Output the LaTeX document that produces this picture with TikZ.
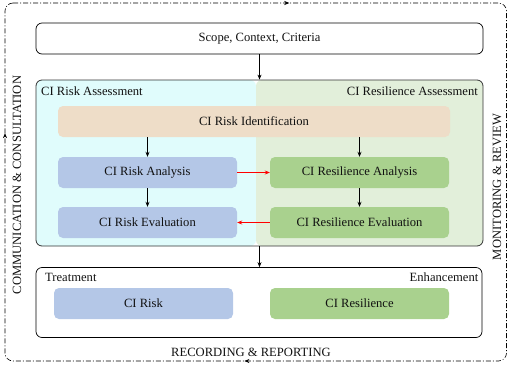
\documentclass[tikz,border=0pt]{standalone}
\usepackage{fontspec}
\setmainfont{Liberation Serif}
\usetikzlibrary{arrows.meta,decorations.markings,calc}
\definecolor{cyanbg}{HTML}{E0FCFC}
\definecolor{greenbg}{HTML}{E2EFDA}
\definecolor{tanfill}{HTML}{EEDDC8}
\definecolor{bluebox}{HTML}{B4C7E7}
\definecolor{greenbox}{HTML}{A9D18E}
\definecolor{txt}{HTML}{111111}
\begin{document}
\begin{tikzpicture}[x=1pt,y=-1pt,
  font=\fontsize{12.6}{15}\selectfont, text=txt,
  box/.style={draw=black, rounded corners=6pt, line width=0.7pt, minimum width=447pt, minimum height=31pt, inner sep=0pt},
  inbox/.style={rounded corners=5pt, minimum width=179pt, minimum height=31pt, inner sep=0pt},
  arr/.style={-{Stealth[length=5pt,width=4pt]}, line width=0.7pt},
  redarr/.style={arr, red},
  lbl/.style={inner sep=0pt}]
\useasboundingbox (0,0) rectangle (507,365);
% outer dash-dot frame
\coordinate (f1) at (5,3);
\coordinate (f2) at (506.5,3);
\coordinate (f3) at (506.5,361);
\coordinate (f4) at (5,361);
\draw[line width=0.6pt, dash pattern=on 5pt off 2pt on 1pt off 2pt, rounded corners=8pt,
  postaction={decorate},
  decoration={markings,
    mark=at position 0.162 with {\arrow{Stealth[length=5pt,width=4pt]}},
    mark=at position 0.649 with {\arrow{Stealth[length=5pt,width=4pt]}},
    mark=at position 0.921 with {\arrow{Stealth[length=5pt,width=4pt]}}}]
  (f1) -- (f2) -- (f3) -- (f4) -- cycle;
% scope
\node[box] (scope) at (259.5,38.5) {Scope, Context, Criteria};
% assessment
\node[box, draw=black!80, line width=0.8pt, minimum height=166pt,
  path picture={
    \fill[cyanbg] (path picture bounding box.north west) rectangle ([xshift=220pt]path picture bounding box.south west);
    \fill[greenbg] ([xshift=220pt]path picture bounding box.north west) rectangle (path picture bounding box.south east);}]
  (assess) at (259.5,163) {};
\node[lbl, anchor=west] (lra) at (41,91) {CI Risk Assessment};
\node[lbl, anchor=east] (lrsa) at (478,91) {CI Resilience Assessment};
\node[inbox, fill=tanfill, minimum width=392pt] (ident) at (254,121.5) {CI Risk Identification};
\node[inbox, fill=bluebox] (ra) at (147.5,172.5) {CI Risk Analysis};
\node[inbox, fill=greenbox] (rsa) at (359.5,172.5) {CI Resilience Analysis};
\node[inbox, fill=bluebox] (re) at (147.5,222.5) {CI Risk Evaluation};
\node[inbox, fill=greenbox] (rse) at (359.5,222.5) {CI Resilience Evaluation};
% treatment
\node[box, minimum width=446pt, minimum height=70pt] (treat) at (259,302.5) {};
\node[lbl, anchor=west] (ltr) at (45,277) {Treatment};
\node[lbl, anchor=east] (len) at (478.5,277) {Enhancement};
\node[inbox, fill=bluebox] (cir) at (143.5,303.5) {CI Risk};
\node[inbox, fill=greenbox] (cires) at (359.5,303.5) {CI Resilience};
% side texts
\node[lbl] (rec) at (251,352) {RECORDING \& REPORTING};
\node[lbl, rotate=90] (comm) at (17,185) {COMMUNICATION \& CONSULTATION};
\node[lbl, rotate=90] (mon) at (497,187) {MONITORING \& REVIEW};
% connectors
\draw[arr] (scope.south) -- (assess.north);
\draw[arr] (ra.north |- ident.south) -- (ra.north);
\draw[arr] (rsa.north |- ident.south) -- (rsa.north);
\draw[arr] (ra.south) -- (re.north);
\draw[arr] (rsa.south) -- (rse.north);
\draw[redarr] (ra.east) -- (rsa.west);
\draw[redarr] (rse.west) -- (re.east);
\draw[arr] (assess.south) -- (assess.south |- treat.north);
\end{tikzpicture}
\end{document}
